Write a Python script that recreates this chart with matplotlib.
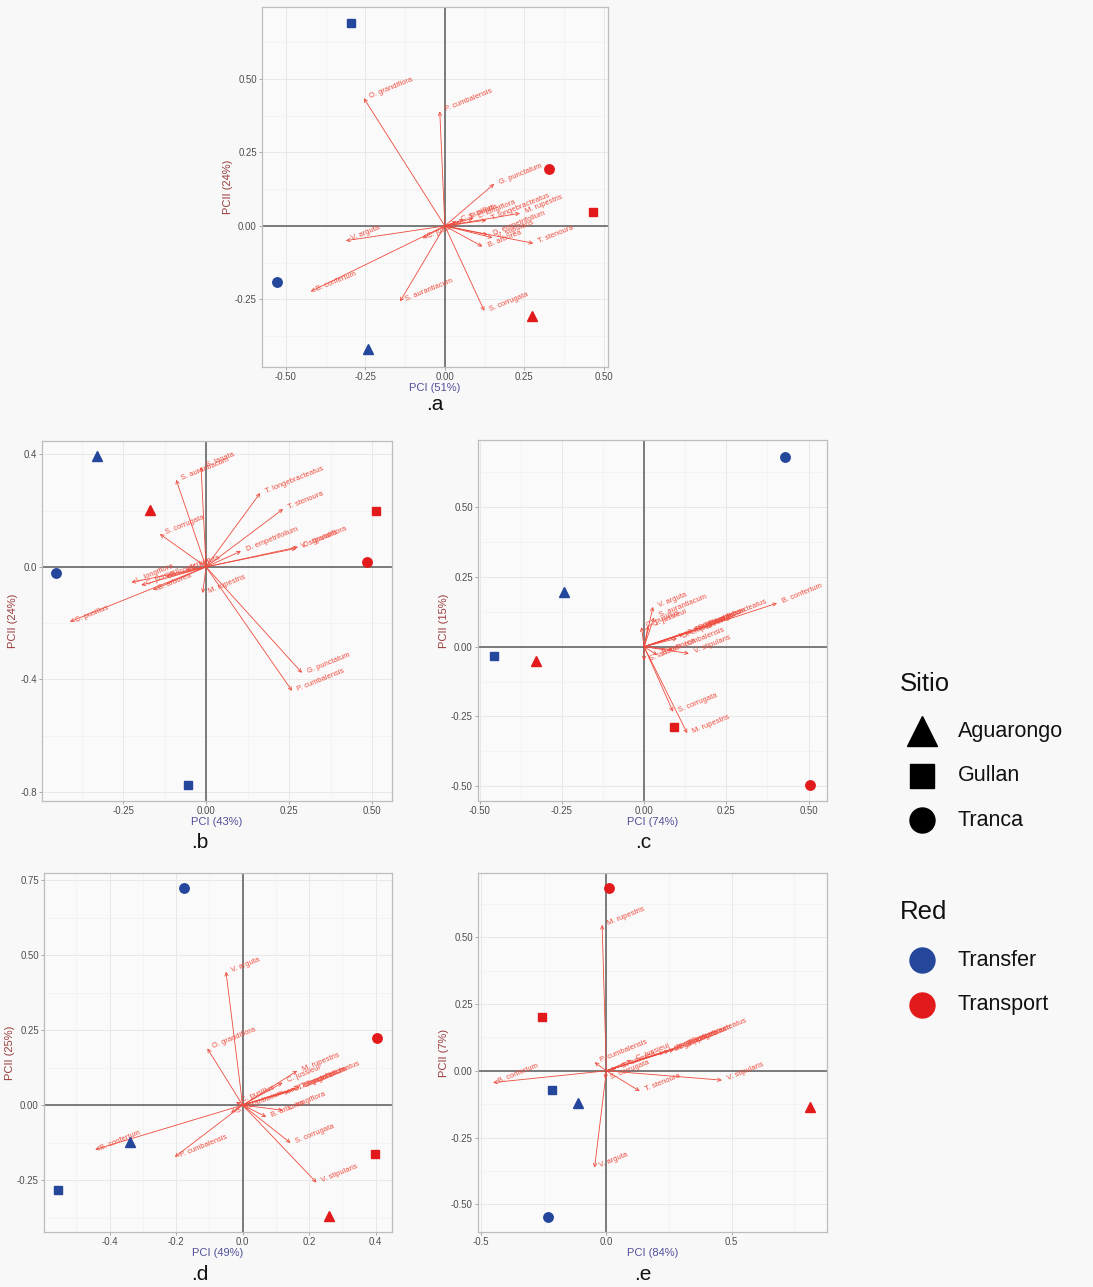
import matplotlib
matplotlib.use("Agg")
import matplotlib.pyplot as plt
from matplotlib.ticker import MultipleLocator, FuncFormatter

plt.rcParams['font.family'] = ['Liberation Sans', 'DejaVu Sans']

# ---------------------------------------------------------------- data
sites = ["Aguarongo", "Gullan", "Tranca"]
networks = ["Transfer", "Transport"]

# order of the six scores in every panel
point_site = ["Aguarongo", "Gullan", "Tranca", "Aguarongo", "Gullan", "Tranca"]
point_net = ["Transfer", "Transfer", "Transfer", "Transport", "Transport", "Transport"]

# panel a
a_pc1 = [-0.242, -0.296, -0.528, 0.274, 0.465, 0.327]
a_pc2 = [-0.420, 0.690, -0.190, -0.306, 0.048, 0.194]
a_var = [51, 24]
a_species = ["O. grandiflora", "P. cumbalensis", "G. punctatum", "M. rupestris",
             "T. longebracteatus", "L. longiflora", "V. stipularis", "D. empetrifolium",
             "T. stenoura", "C. jussieui", "V. arguta", "B. confertum",
             "S. aurantiacum", "S. corrugata", "B. arborea", "C. pusillus", "S. lanata"]
a_load1 = [-0.255, -0.016, 0.155, 0.236, 0.131, 0.089, 0.150, 0.135,
           0.278, -0.070, -0.311, -0.422, -0.141, 0.124, 0.118, 0.037, 0.060]
a_load2 = [0.435, 0.390, 0.143, 0.043, 0.020, 0.026, -0.040, -0.030,
           -0.059, -0.042, -0.050, -0.223, -0.257, -0.289, -0.070, 0.015, 0.022]

# panel b
b_pc1 = [-0.328, -0.054, -0.452, -0.169, 0.512, 0.485]
b_pc2 = [0.395, -0.776, -0.020, 0.203, 0.199, 0.018]
b_var = [43, 24]
b_species = ["S. aurantiacum", "S. lanata", "T. longebracteatus", "T. stenoura",
             "S. corrugata", "D. empetrifolium", "O. grandiflora", "V. stipularis",
             "L. longiflora", "C. jussieui", "B. arborea", "C. pusillus",
             "M. rupestris", "G. punctatum", "P. cumbalensis", "B. confertum", "V. arguta"]
b_load1 = [-0.090, -0.015, 0.163, 0.232, -0.139, 0.105, 0.277, 0.272,
           -0.225, -0.195, -0.160, -0.410, -0.010, 0.289, 0.259, -0.120, -0.060]
b_load2 = [0.310, 0.356, 0.263, 0.206, 0.117, 0.056, 0.071, 0.066,
           -0.055, -0.065, -0.082, -0.195, -0.093, -0.377, -0.441, -0.035, -0.010]

# panel c
c_pc1 = [-0.245, -0.455, 0.429, -0.330, 0.091, 0.503]
c_pc2 = [0.197, -0.032, 0.679, -0.051, -0.287, -0.497]
c_var = [74, 15]
c_species = ["B. confertum", "V. arguta", "S. aurantiacum", "C. jussieui",
             "O. grandiflora", "T. longebracteatus", "G. punctatum", "T. stenoura",
             "L. longiflora", "D. empetrifolium", "P. cumbalensis", "B. arborea",
             "V. stipularis", "S. corrugata", "M. rupestris", "C. pusillus", "S. lanata"]
c_load1 = [0.404, 0.027, 0.030, 0.012, 0.150, 0.180, 0.165, 0.140,
           0.120, 0.100, 0.085, 0.040, 0.136, 0.088, 0.131, -0.008, 0.000]
c_load2 = [0.156, 0.143, 0.105, 0.075, 0.060, 0.072, 0.065, 0.052,
           0.045, 0.030, -0.010, -0.030, -0.024, -0.233, -0.310, 0.070, -0.050]

# panel d
d_pc1 = [-0.338, -0.554, -0.176, 0.260, 0.398, 0.403]
d_pc2 = [-0.122, -0.284, 0.724, -0.370, -0.164, 0.225]
d_var = [49, 25]
d_species = ["V. arguta", "O. grandiflora", "M. rupestris", "C. jussieui",
             "G. punctatum", "T. longebracteatus", "T. stenoura", "D. empetrifolium",
             "L. longiflora", "B. arborea", "S. corrugata", "V. stipularis",
             "B. confertum", "P. cumbalensis", "S. aurantiacum", "C. pusillus"]
d_load1 = [-0.050, -0.106, 0.164, 0.120, 0.171, 0.160, 0.150, 0.140,
           0.121, 0.071, 0.144, 0.222, -0.443, -0.204, -0.035, -0.020]
d_load2 = [0.445, 0.189, 0.114, 0.075, 0.061, 0.055, 0.050, 0.045,
           -0.017, -0.039, -0.126, -0.258, -0.148, -0.173, -0.025, 0.010]

# panel e
e_pc1 = [-0.113, -0.217, -0.233, 0.811, -0.255, 0.009]
e_pc2 = [-0.122, -0.072, -0.547, -0.135, 0.200, 0.683]
e_var = [84, 7]
e_species = ["M. rupestris", "P. cumbalensis", "T. longebracteatus", "G. punctatum",
             "D. empetrifolium", "O. grandiflora", "L. longiflora", "C. jussieui",
             "B. confertum", "V. stipularis", "T. stenoura", "V. arguta",
             "S. corrugata", "B. arborea"]
e_load1 = [-0.017, -0.047, 0.306, 0.290, 0.270, 0.250, 0.230, 0.100,
           -0.452, 0.461, 0.133, -0.047, -0.005, 0.040]
e_load2 = [0.546, 0.032, 0.096, 0.088, 0.080, 0.075, 0.070, 0.040,
           -0.044, -0.035, -0.076, -0.362, -0.030, 0.010]

# ---------------------------------------------------------------- styling
site_markers = {"Aguarongo": "^", "Gullan": "s", "Tranca": "o"}
marker_sizes = {"^": 7.5, "s": 6.2, "o": 6.8}
net_colors = {"Transfer": "#24469b", "Transport": "#e31a1c"}
arrow_color = "#ee4a3c"
bg = "#f8f8f8"

W, H = 1093, 1287
fig = plt.figure(figsize=(W / 100, H / 100), dpi=100)
fig.patch.set_facecolor(bg)


def px_axes(x0, y0, x1, y1):
    return fig.add_axes([x0 / W, 1 - y1 / H, (x1 - x0) / W, (y1 - y0) / H])


def biplot(box, xlim, ylim, xstep, ystep, xfmt, yfmt,
           pc1, pc2, var, species, load1, load2, letter):
    ax = px_axes(*box)
    ax.set_facecolor("#fafafa")
    ax.set_xlim(*xlim)
    ax.set_ylim(*ylim)
    ax.xaxis.set_major_locator(MultipleLocator(xstep))
    ax.yaxis.set_major_locator(MultipleLocator(ystep))
    ax.xaxis.set_minor_locator(MultipleLocator(xstep / 2))
    ax.yaxis.set_minor_locator(MultipleLocator(ystep / 2))
    ax.xaxis.set_major_formatter(xfmt)
    ax.yaxis.set_major_formatter(yfmt)
    ax.grid(which="major", color="#e8e8e8", lw=0.7)
    ax.grid(which="minor", color="#f0f0f0", lw=0.5)
    ax.set_axisbelow(True)
    for s in ax.spines.values():
        s.set_color("#bdbdbd")
        s.set_linewidth(0.9)
    ax.tick_params(which="major", length=2.2, width=0.6, color="#9a9a9a",
                   labelsize=6.9, labelcolor="#4d4d4d", pad=1.5)
    ax.tick_params(which="minor", length=0)
    ax.axhline(0, color="#5a5a5a", lw=1.1, zorder=1)
    ax.axvline(0, color="#5a5a5a", lw=1.1, zorder=1)

    for name, lx, ly in zip(species, load1, load2):
        ax.annotate("", xy=(lx, ly), xytext=(0, 0),
                    arrowprops=dict(arrowstyle="->", color=arrow_color, lw=0.6,
                                    shrinkA=0, shrinkB=0, mutation_scale=6),
                    zorder=2)
        ax.annotate(name, xy=(lx, ly), xytext=(4, 1), textcoords="offset points",
                    rotation=22, rotation_mode="anchor", ha="left", va="center",
                    fontsize=5.4, color=arrow_color, zorder=2)

    for x, y, s, n in zip(pc1, pc2, point_site, point_net):
        m = site_markers[s]
        ax.plot(x, y, marker=m, ms=marker_sizes[m], color=net_colors[n],
                mec=net_colors[n], ls="none", zorder=3)

    ax.set_xlabel(f"PCI ({var[0]}%)", fontsize=8, color="#50509a", labelpad=0.5)
    ax.set_ylabel(f"PCII ({var[1]}%)", fontsize=8, color="#9a3a3a", labelpad=1.5)
    fig.text(letter[1] / W, 1 - letter[2] / H, letter[0], fontsize=15,
             ha="center", va="center", color="#111111")
    return ax


F2 = FuncFormatter(lambda v, p: f"{v:.2f}")
F1 = FuncFormatter(lambda v, p: f"{v:.1f}")

biplot((262, 7, 608, 367), (-0.575, 0.513), (-0.48, 0.745), 0.25, 0.25, F2, F2,
       a_pc1, a_pc2, a_var, a_species, a_load1, a_load2, (".a", 435, 405))
biplot((42, 441, 392, 801), (-0.494, 0.56), (-0.833, 0.448), 0.25, 0.4, F2, F1,
       b_pc1, b_pc2, b_var, b_species, b_load1, b_load2, (".b", 200, 842))
biplot((478, 440, 827, 801), (-0.505, 0.556), (-0.553, 0.741), 0.25, 0.25, F2, F2,
       c_pc1, c_pc2, c_var, c_species, c_load1, c_load2, (".c", 643, 842))
biplot((44, 873, 392, 1232), (-0.597, 0.449), (-0.423, 0.774), 0.2, 0.25, F1, F2,
       d_pc1, d_pc2, d_var, d_species, d_load1, d_load2, (".d", 200, 1274))
biplot((478, 873, 827, 1232), (-0.512, 0.88), (-0.603, 0.74), 0.5, 0.25, F1, F2,
       e_pc1, e_pc2, e_var, e_species, e_load1, e_load2, (".e", 643, 1274))

# ---------------------------------------------------------------- legends
leg = fig.add_axes([0, 0, 1, 1], facecolor="none")
leg.set_xlim(0, W)
leg.set_ylim(H, 0)
leg.axis("off")

leg.text(900, 684, "Sitio", fontsize=18.5, ha="left", va="center", color="#111111")
legend_sizes = {"^": 22, "s": 17, "o": 18}
for i, s in enumerate(sites):
    y = 731 + i * 44.5
    m = site_markers[s]
    leg.plot(922, y, marker=m, ms=legend_sizes[m], color="black", ls="none")
    leg.text(958, y, s, fontsize=15.5, ha="left", va="center", color="#111111")

leg.text(900, 912, "Red", fontsize=18.5, ha="left", va="center", color="#111111")
for i, n in enumerate(networks):
    y = 960 + i * 44.5
    leg.plot(922, y, marker="o", ms=18, color=net_colors[n], ls="none")
    leg.text(958, y, n, fontsize=15.5, ha="left", va="center", color="#111111")

fig.savefig("out.png", dpi=100, facecolor=bg)
